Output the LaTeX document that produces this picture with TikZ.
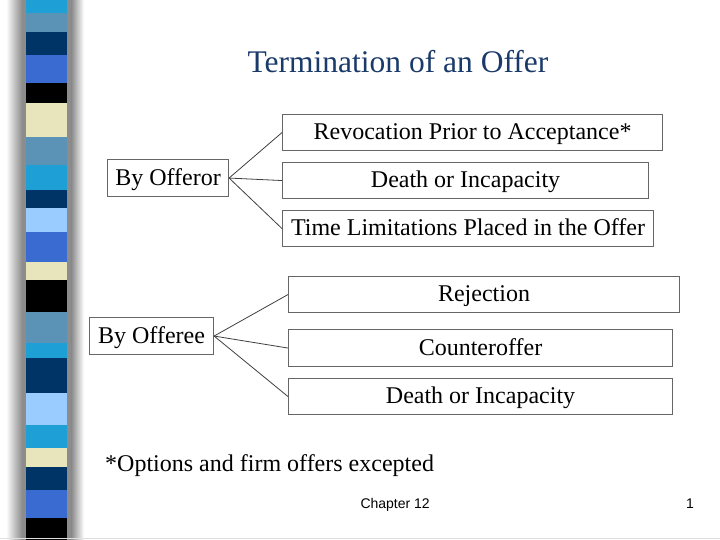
\documentclass[tikz,border=0pt]{standalone}
\usepackage{fontspec}
\setmainfont{Liberation Serif}
\setsansfont{Liberation Sans}
\definecolor{scyan}{HTML}{1E9FD5}
\definecolor{ssteel}{HTML}{5A93B5}
\definecolor{snavy}{HTML}{003466}
\definecolor{sroyal}{HTML}{3A6BD0}
\definecolor{scream}{HTML}{E8E4BC}
\definecolor{slight}{HTML}{9ACCFF}
\definecolor{titleblue}{HTML}{1A3A6A}
\tikzset{
  boxnode/.style={draw=black!60, line width=1.1pt, anchor=north west, inner sep=0pt,
    text height=18pt, text depth=4pt, font=\fontsize{24}{28}\selectfont},
  conn/.style={draw=black!75, line width=0.8pt},
}
\begin{document}
\begin{tikzpicture}[x=1pt,y=-1pt]
\useasboundingbox (0,0) rectangle (720,540);
\fill[white] (0,0) rectangle (720,540);
% shadow of the stripe bar
\shade[left color=white, right color=black!45] (6,0) rectangle (22,540);
\fill[black!45] (21.5,0) rectangle (27,540);
\fill[black!45] (66,0) rectangle (72,540);
\shade[left color=black!45, right color=white] (71.5,0) rectangle (84,540);
% stripes
\foreach \ya/\yb/\c in {0/13/scyan,13/32/ssteel,32/55/snavy,55/83/sroyal,83/103/black,
  103/137/scream,137/165/ssteel,165/190/scyan,190/208/snavy,208/232/slight,232/262/sroyal,
  262/280/scream,280/312/black,312/343/ssteel,343/358/scyan,358/393/snavy,393/425/slight,
  425/448/scyan,448/467/scream,467/490/snavy,490/518/sroyal,518/540/black}
  \fill[\c] (26,\ya) rectangle (67,\yb);
\draw[black!12, line width=1pt] (0,538.5) -- (720,538.5);
% title
\node[anchor=base, text=titleblue, font=\fontsize{31.5}{36}\selectfont] (title) at (398,73) {Termination of an Offer};
% offeror group
\node[boxnode, minimum width=121pt, minimum height=37pt] (offeror) at (107,159) {By Offeror};
\node[boxnode, minimum width=380pt, minimum height=36pt] (r1) at (282,114) {Revocation Prior to Acceptance*};
\node[boxnode, minimum width=366pt, minimum height=36pt] (r2) at (282,162) {Death or Incapacity};
\node[boxnode, minimum width=371pt, minimum height=36pt] (r3) at (282,210) {Time Limitations Placed in the Offer};
\draw[conn] (offeror.east) -- (r1.west);
\draw[conn] (offeror.east) -- (r2.west);
\draw[conn] (offeror.east) -- (r3.west);
% offeree group
\node[boxnode, minimum width=124pt, minimum height=37pt] (offeree) at (89,317) {By Offeree};
\node[boxnode, minimum width=391pt, minimum height=36pt] (e1) at (288,276) {Rejection};
\node[boxnode, minimum width=384pt, minimum height=37pt] (e2) at (288,329) {Counteroffer};
\node[boxnode, minimum width=384pt, minimum height=36pt] (e3) at (288,378) {Death or Incapacity};
\draw[conn] (offeree.east) -- (e1.west);
\draw[conn] (offeree.east) -- (e2.west);
\draw[conn] (offeree.east) -- (e3.west);
% footnote and footer
\node[anchor=base west, inner sep=0pt, font=\fontsize{24}{28}\selectfont] (note) at (105,471) {*Options and firm offers excepted};
\node[anchor=base east, inner sep=0pt, font=\sffamily\fontsize{14}{16}\selectfont] (chap) at (430,508) {Chapter 12};
\node[anchor=base east, inner sep=0pt, font=\sffamily\fontsize{14}{16}\selectfont] (page) at (694,508) {1};
\end{tikzpicture}
\end{document}
